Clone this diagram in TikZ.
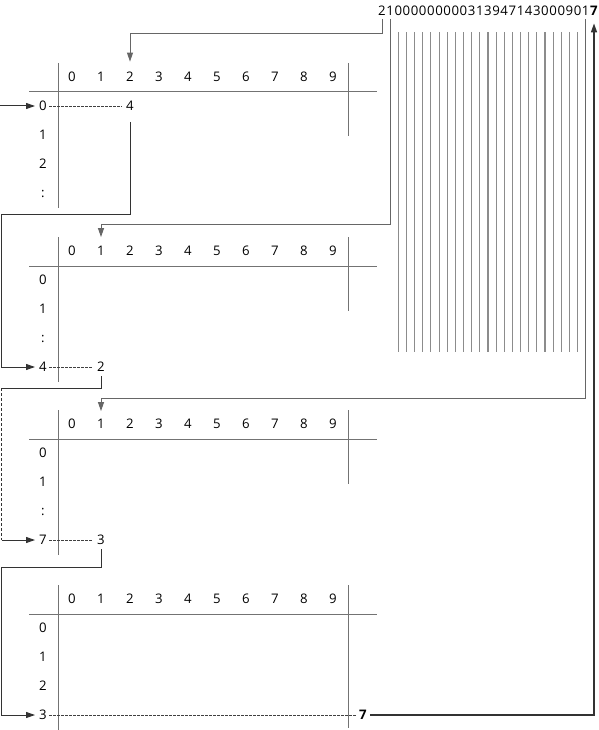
\documentclass[tikz,border=0pt]{standalone}
\usepackage{fontspec}
\setmainfont{Open Sans}
\usetikzlibrary{arrows.meta}
\begin{document}
\begin{tikzpicture}[x=1pt,y=-1pt,
  dig/.style={inner sep=0pt,text height=9.4pt,text depth=0pt,font=\fontsize{13.2}{15}\selectfont},
  bdig/.style={dig,font=\fontsize{13.2}{15}\selectfont\bfseries},
  tline/.style={draw=black!55,line width=1pt},
  conn/.style={draw=black!60,line width=1pt},
  lconn/.style={draw=black!80,line width=1pt},
  ldash/.style={draw=black!80,line width=1.4pt,dash pattern=on 3pt off 2pt},
  res/.style={draw=black!75,line width=0.9pt,dash pattern=on 2.5pt off 1.5pt},
  arr/.style={-{Triangle[length=9pt,width=6pt]}},
  strline/.style={draw=black!45,line width=1.1pt}]
\useasboundingbox (0,0) rectangle (598,730);
% top digit string
\foreach \c [count=\i from 0] in {2,1,0,0,0,0,0,0,0,0,0,3,1,3,9,4,7,1,4,3,0,0,0,9,0,1}
  {\node[dig] (s\i) at ({382+8.15*\i},11) {\c};}
\node[bdig] (s26) at (594,11) {7};
\foreach \i in {2,...,24}
  {\draw[strline] ([yshift=-16.3pt]s\i.south) -- ++(0,320);}
% tables
\foreach \tb/\y/\ra/\rb/\rc/\rd/\lb/\rr in {1/92/0/1/2/:/208/136,2/266/0/1/:/4/382/311,3/439/0/1/:/7/555/484,4/614/0/1/2/3/730/728}{
  \foreach \j in {0,...,9}
    {\node[dig] (t\tb h\j) at ({72+29*\j},\y-15) {\j};}
  \node[dig] (t\tb r0) at (43,\y+14) {\ra};
  \node[dig] (t\tb r1) at (43,\y+43) {\rb};
  \node[dig] (t\tb r2) at (43,\y+72) {\rc};
  \node[dig] (t\tb r3) at (43,\y+101) {\rd};
  \draw[tline] (29,\y) -- (377,\y);
  \draw[tline] (58,\y-29) -- (58,\lb);
  \draw[tline] (348,\y-29) -- (348,\rr);
}
% results
\node[dig] (t1v) at (130,106) {4};
\node[dig] (t2v) at (101,367) {2};
\node[dig] (t3v) at (101,540) {3};
\node[bdig] (t4v) at (363,715) {7};
\draw[res] ([xshift=2.5pt]t1r0.east) -- ([xshift=-4pt]t1v.west);
\draw[res] ([xshift=2.5pt]t2r3.east) -- ([xshift=-4pt]t2v.west);
\draw[res] ([xshift=2.5pt]t3r3.east) -- ([xshift=-4pt]t3v.west);
\draw[res] ([xshift=2.5pt]t4r3.east) -- ([xshift=-3pt]t4v.west);
% connectors from the digit string
\draw[conn,arr] ([yshift=-3pt]s0.south) -- ++(0,14.5) -| ([yshift=10.5pt]t1h2.north);
\draw[conn,arr] ([yshift=-3pt]s1.south) -- ++(0,205.5) -| ([yshift=9pt]t2h1.north);
\draw[conn,arr] ([yshift=-3pt]s25.south) -- ++(0,379.5) -| ([yshift=8pt]t3h1.north);
\draw[lconn,line width=1.5pt,arr] ([xshift=3pt]t4v.east) -| ([yshift=-7.5pt]s26.south);
% left connectors
\coordinate (a0) at (0,106);
\coordinate (b1) at (1.5,214);
\coordinate (c1) at (1.5,388);
\coordinate (d1) at (1.5,567);
\draw[lconn,arr] (a0) -- ([xshift=-4pt]t1r0.west);
\draw[lconn,arr] ([yshift=-11pt]t1v.south) |- (b1) |- ([xshift=-4pt]t2r3.west);
\draw[lconn] ([yshift=-4.5pt]t2v.south) |- (c1);
\draw[ldash] (c1) -- (c1 |- t3r3.west);
\draw[lconn,arr] (c1 |- t3r3.west) -- ([xshift=-4pt]t3r3.west);
\draw[lconn,arr] ([yshift=-4.5pt]t3v.south) |- (d1) |- ([xshift=-4pt]t4r3.west);
\end{tikzpicture}
\end{document}
